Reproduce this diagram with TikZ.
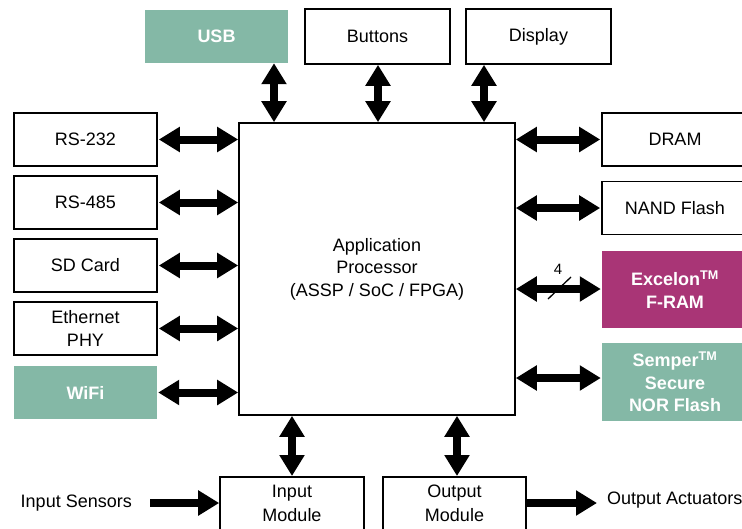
\documentclass[tikz,border=0pt]{standalone}
\usepackage{fontspec}
\setmainfont{Liberation Sans}
\usetikzlibrary{arrows.meta}
\definecolor{tealc}{HTML}{84B8A6}
\definecolor{mag}{HTML}{A93576}
\begin{document}
\begin{tikzpicture}[x=1pt,y=-1pt,
  every node/.style={font=\fontsize{18}{22.5}\selectfont, align=center, inner sep=0pt},
  box/.style={draw=black, line width=1.6pt, fill=white, minimum width=143pt, minimum height=53pt},
  tbox/.style={fill=tealc, text=white, font=\fontsize{18}{22.5}\selectfont\bfseries, minimum width=143pt, minimum height=53pt},
  mbox/.style={fill=mag, text=white, font=\fontsize{18}{22.5}\selectfont\bfseries, minimum width=143pt, minimum height=77pt},
  dbl/.style={line width=8pt, {Triangle[length=21pt,width=24pt]}-{Triangle[length=21pt,width=24pt]}},
  sgl/.style={line width=8pt, -{Triangle[length=21pt,width=24pt]}}
]
\useasboundingbox (0,0) rectangle (742,528);
\clip (0,0) rectangle (742,528);
% top
\node[tbox] (usb) at (216.5,36.5) {USB};
\node[box, minimum width=145pt, minimum height=55pt] (btn) at (377.5,36.5) {Buttons};
\node[box, minimum width=145pt, minimum height=55pt] (disp) at (538.5,36.5) {Display};
% processor
\node[draw=black, line width=1.6pt, minimum width=276pt, minimum height=292pt] (proc) at (377,269) {Application\\Processor\\(ASSP / SoC / FPGA)};
% left
\node[box] (rs232) at (85.5,139.5) {RS-232};
\node[box] (rs485) at (85.5,202.5) {RS-485};
\node[box] (sd) at (85.5,265.5) {SD Card};
\node[box] (eth) at (85.5,328.5) {Ethernet\\PHY};
\node[tbox] (wifi) at (85.5,392.5) {WiFi};
% right
\node[box, minimum width=146pt] (dram) at (675,139.5) {DRAM};
\node[box, minimum width=146pt] (nand) at (675,208) {NAND Flash};
\node[mbox, minimum width=146pt] (fram) at (675,289.5) {Excelon\textsuperscript{TM}\\F-RAM};
\node[tbox, minimum width=146pt, minimum height=78pt] (nor) at (675,382) {Semper\textsuperscript{TM}\\Secure\\NOR Flash};
% bottom
\node[box, minimum width=144pt, minimum height=80pt, anchor=north] (inm) at (292,476) {};
\node at (292,493) {Input};
\node at (292,515) {Module};
\node[box, minimum width=143pt, minimum height=80pt, anchor=north] (outm) at (454.5,476) {};
\node at (454.5,493) {Output};
\node at (454.5,515) {Module};
\node[anchor=east] (insens) at (132,503) {Input Sensors};
\node[anchor=west] (outact) at (607,500) {Output Actuators};
% arrows top
\draw[dbl] (usb.south -| 274,0) -- (proc.north -| 274,0);
\draw[dbl] (btn.south -| 378,0) -- (proc.north -| 378,0);
\draw[dbl] (disp.south -| 484,0) -- (proc.north -| 484,0);
% left arrows
\foreach \n in {rs232,rs485,sd,eth,wifi}{
  \draw[dbl] ([xshift=1pt]\n.east) -- (proc.west |- \n.east);
}
% right arrows
\draw[dbl] (proc.east |- dram.west) -- ([xshift=-1pt]dram.west);
\draw[dbl] (proc.east |- nand.west) -- ([xshift=-1pt]nand.west);
\draw[dbl] (proc.east |- 0,289) -- ([xshift=-1pt]fram.west |- 0,289);
\draw[dbl] (proc.east |- 0,378) -- ([xshift=-1pt]nor.west |- 0,378);
\coordinate (s1) at (548,299);
\coordinate (s2) at (571,277);
\draw[line width=1.3pt] (s1) -- (s2);
\node[font=\fontsize{15}{18}\selectfont] (four) at (558,269) {4};
% bottom arrows
\draw[dbl] (proc.south -| inm.north) -- (inm.north);
\draw[dbl] (proc.south -| 457,0) -- (outm.north -| 457,0);
\draw[sgl] (insens.east |- 0,503) ++(18,0) coordinate (a1) -- (inm.west |- 0,503);
\draw[sgl, shorten >=10pt] (outm.east |- 0,503) -- (outact.west |- 0,503);
\end{tikzpicture}
\end{document}
